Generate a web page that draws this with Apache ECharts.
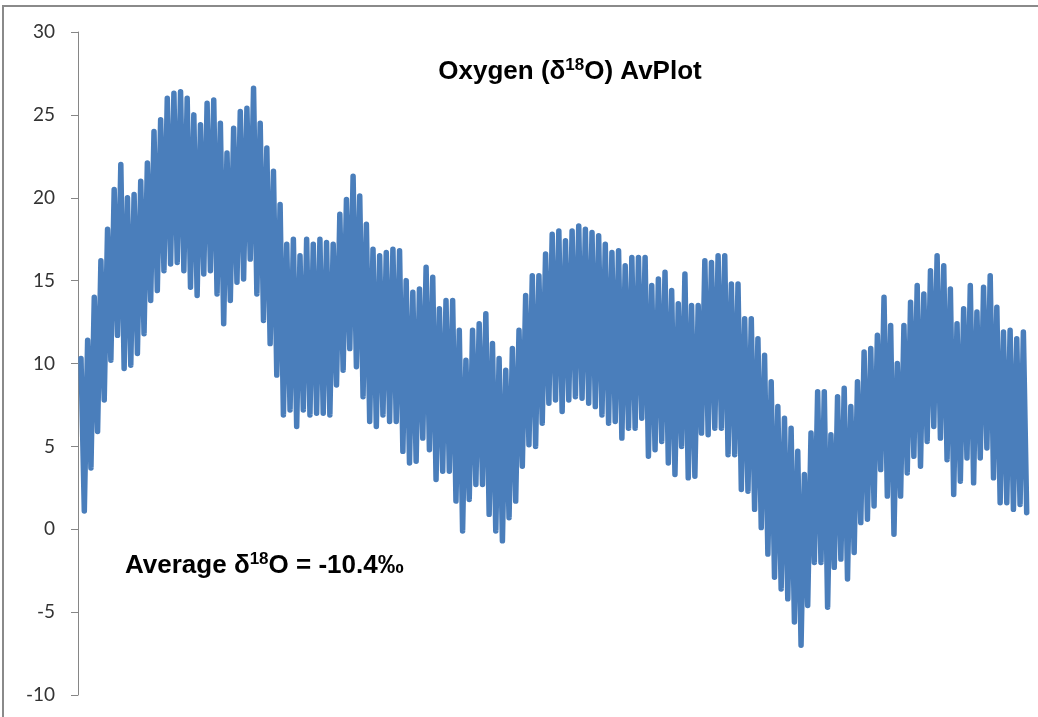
<!DOCTYPE html>
<html>
<head>
<meta charset="utf-8">
<script src="https://cdn.jsdelivr.net/npm/echarts@6/dist/echarts.min.js"></script>
<style>
html,body{margin:0;padding:0;background:#fff;}
#chart{width:1038px;height:717px;}
</style>
</head>
<body>
<div id="chart"></div>
<script>
// Peaks (local maxima), left to right
const peaks = [
 10.3,11.4,14.0,16.2,18.1,20.5,22.0,20.0,20.2,21.0,
 22.1,24.0,24.7,26.0,26.3,26.4,26.0,25.0,24.4,25.7,
 25.9,24.5,22.7,24.2,25.2,25.4,26.6,24.5,23.0,21.6,
 19.6,17.2,17.5,16.5,17.5,17.2,17.5,17.3,17.2,19.0,
 19.9,21.3,20.1,18.4,16.9,16.5,16.7,16.9,16.8,15.0,
 14.3,14.5,15.8,15.2,13.3,13.8,13.8,12.0,10.2,12.0,
 12.4,13.0,11.2,10.3,9.6,10.9,12.0,14.1,15.3,15.3,
 16.6,17.8,18.0,17.4,18.0,18.3,18.1,17.9,17.7,17.2,
 16.7,16.8,15.9,16.4,16.4,16.4,14.7,15.1,15.5,14.4,
 13.6,15.4,13.5,13.5,16.2,16.1,16.5,16.5,14.8,14.8,
 12.7,12.7,11.5,10.5,8.9,7.4,6.7,6.1,4.7,3.3,
 5.8,8.3,8.3,5.7,8.0,8.5,7.4,8.9,10.7,10.9,
 11.7,14.0,12.3,10.0,12.3,13.7,14.7,14.2,15.6,16.5,
 15.9,14.5,12.4,13.3,14.7,13.1,14.6,15.3,13.4,11.9,
 12.0,11.5,11.9
];
// Troughs (local minima) following each peak
const troughs = [
 1.1,3.7,5.9,7.8,10.2,11.7,9.7,9.9,10.6,11.8,
 13.8,14.4,15.6,16.0,16.1,15.6,14.6,14.1,15.4,15.6,
 14.2,12.4,13.8,14.9,15.1,16.3,14.2,12.6,11.2,9.3,
 6.9,7.2,6.2,7.2,6.9,7.0,7.0,6.9,8.7,9.6,
 10.9,9.8,8.0,6.5,6.2,6.9,6.5,6.5,4.7,4.0,
 4.1,5.5,4.8,3.0,3.5,3.5,1.7,-0.1,1.8,2.7,
 2.7,0.9,-0.1,-0.7,0.7,1.7,3.8,5.1,5.0,6.4,
 7.6,7.8,7.1,7.8,8.0,7.9,7.6,7.4,6.9,6.4,
 6.5,5.5,6.1,6.1,6.7,4.4,4.8,5.3,4.0,3.3,
 5.0,3.1,3.2,5.8,5.7,6.1,6.1,4.5,4.5,2.4,
 2.3,1.2,0.1,-1.5,-2.9,-3.6,-4.2,-5.6,-7.0,-4.6,
 -2.0,-2.0,-4.7,-2.3,-1.8,-3.0,-1.4,0.4,0.6,1.4,
 3.6,2.0,-0.3,2.0,3.4,4.4,3.8,5.3,6.2,5.5,
 4.2,2.1,2.9,4.3,2.8,4.3,4.9,3.1,1.6,1.6,
 1.2,1.5,1.0
];
const titleText = ['Oxygen (δ', '18', 'O) AvPlot'];
const noteText = ['Average δ', '18', 'O = -10.4‰'];
const yMin = -10, yMax = 30, yStep = 5;

const values = [];
for (let i = 0; i < peaks.length; i++) {
  values.push(peaks[i]);
  values.push(troughs[i]);
}
const cats = values.map((_, i) => String(i));

const chart = echarts.init(document.getElementById('chart'), null, {renderer: 'canvas'});
const richStyles = (size, supSize) => ({
  m: {fontFamily: 'Liberation Sans, Arial', fontWeight: 'bold', fontSize: size, lineHeight: size + 4, color: '#000', verticalAlign: 'middle'},
  s: {fontFamily: 'Liberation Sans, Arial', fontWeight: 'bold', fontSize: supSize, lineHeight: supSize, color: '#000', verticalAlign: 'top'}
});
chart.setOption({
  animation: false,
  backgroundColor: '#fff',
  grid: {left: 81, right: 11.3, top: 32, bottom: 22, containLabel: false, outerBoundsMode: 'none'},
  xAxis: {type: 'category', data: cats, boundaryGap: false, show: false},
  yAxis: {
    type: 'value', min: yMin, max: yMax, interval: yStep, offset: 3,
    axisLine: {show: true, lineStyle: {color: '#868686', width: 1}},
    axisTick: {show: true, length: 7, lineStyle: {color: '#868686'}},
    splitLine: {show: false},
    axisLabel: {margin: 23, fontFamily: 'Lato', fontSize: 19, color: '#333'}
  },
  series: [{
    type: 'line', data: values, showSymbol: false, symbol: 'none', sampling: null,
    lineStyle: {color: '#4a7ebb', width: 5.5, cap: 'round', join: 'round'},
    clip: false
  }],
  graphic: [
    {type: 'rect', shape: {x: 3, y: 6, width: 1200, height: 900}, style: {fill: 'none', stroke: '#8a8a8a', lineWidth: 2}, silent: true},
    {type: 'text', x: 570, y: 72, style: {
      text: '{m|' + titleText[0] + '}{s|' + titleText[1] + '}{m|' + titleText[2] + '}',
      rich: richStyles(26, 17), align: 'center', verticalAlign: 'middle'}},
    {type: 'text', x: 125, y: 566, style: {
      text: '{m|' + noteText[0] + '}{s|' + noteText[1] + '}{m|' + noteText[2] + '}',
      rich: richStyles(26, 17), align: 'left', verticalAlign: 'middle'}}
  ]
});
</script>
</body>
</html>
